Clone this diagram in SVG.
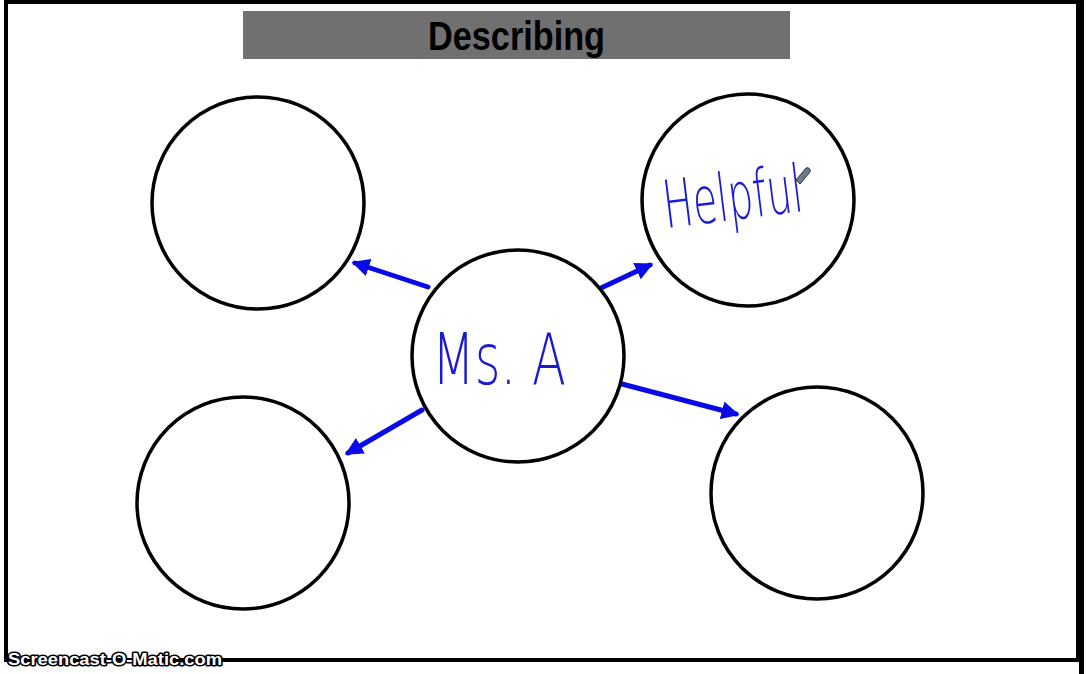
<svg xmlns="http://www.w3.org/2000/svg" width="1086" height="674" viewBox="0 0 1086 674">
<defs>
<style>
.node{fill:#fff;stroke:#000;stroke-width:3.5}
.arr{stroke:#0a0ae6;stroke-width:5;fill:none;stroke-linecap:round}
.hand{fill:#1a1ad0;font-family:"DejaVu Sans",sans-serif;font-weight:200}
</style>
<marker id="ah" viewBox="0 0 10 10" refX="8" refY="5" markerWidth="3.6" markerHeight="3.6" orient="auto" markerUnits="strokeWidth">
<path d="M0,0 L10,5 L0,10 z" fill="#0a0ae6"/>
</marker>
</defs>
<rect width="1086" height="674" fill="#fff"/>
<g id="frame">
<rect x="6" y="2" width="1072" height="658" fill="none" stroke="#000" stroke-width="4"/>
<rect x="1079" y="0" width="5" height="674" fill="#000"/>
</g>
<g id="title">
<rect x="243" y="11" width="547" height="48" fill="#707070"/>
<text x="428" y="50" font-family="Liberation Sans, sans-serif" font-weight="bold" font-size="40" textLength="177" lengthAdjust="spacingAndGlyphs" fill="#000">Describing</text>
</g>
<g id="connectors">
<line class="arr" x1="428" y1="287" x2="355" y2="263" marker-end="url(#ah)"/>
<line class="arr" x1="601" y1="288" x2="650" y2="265" marker-end="url(#ah)"/>
<line class="arr" x1="622" y1="384" x2="736" y2="414" marker-end="url(#ah)"/>
<line class="arr" x1="422" y1="410" x2="348" y2="453" marker-end="url(#ah)"/>
</g>
<g id="node-top-left"><circle class="node" cx="258" cy="203" r="106"/></g>
<g id="node-top-right"><circle class="node" cx="748" cy="200" r="106"/>
<text class="hand" x="666" y="228" transform="rotate(-7 666 228)" font-size="66" textLength="140" lengthAdjust="spacingAndGlyphs">Helpful</text>
<path d="M796,180 l10,-12 a3,3 0 0 1 4,4 l-10,12 z" fill="#6a7a88" stroke="#333" stroke-width="1"/>
</g>
<g id="node-center"><circle class="node" cx="518" cy="356" r="106"/>
<text class="hand" x="432" y="384" font-size="72" textLength="134" lengthAdjust="spacingAndGlyphs">Ms. A</text>
</g>
<g id="node-bottom-left"><circle class="node" cx="243" cy="503" r="106"/></g>
<g id="node-bottom-right"><circle class="node" cx="817" cy="493" r="106"/></g>
<g id="watermark">
<text x="8" y="665" font-family="Liberation Sans, sans-serif" font-weight="bold" font-size="16" textLength="214" lengthAdjust="spacingAndGlyphs" fill="#fff" stroke="#000" stroke-width="3" paint-order="stroke" stroke-linejoin="round">Screencast-O-Matic.com</text>
</g>
</svg>
